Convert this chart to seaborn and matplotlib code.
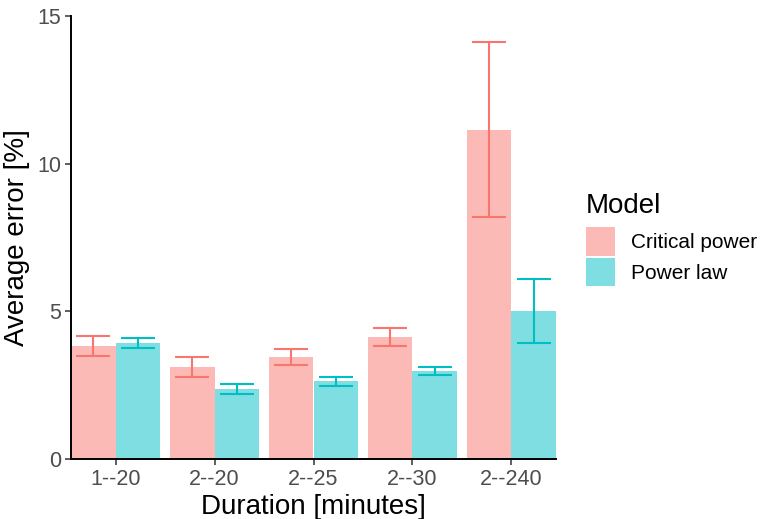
import matplotlib
matplotlib.use("Agg")
import matplotlib.pyplot as plt
import seaborn as sns
import pandas as pd
import numpy as np
from matplotlib.patches import Patch

durations = ["1--20", "2--20", "2--25", "2--30", "2--240"]
models = ["Critical power", "Power law"]
cp_mean = [3.83, 3.12, 3.45, 4.12, 11.15]
cp_low = [3.48, 2.79, 3.17, 3.83, 8.18]
cp_high = [4.17, 3.47, 3.74, 4.44, 14.13]
pl_mean = [3.93, 2.37, 2.63, 2.97, 5.00]
pl_low = [3.75, 2.19, 2.48, 2.83, 3.94]
pl_high = [4.10, 2.55, 2.79, 3.12, 6.10]

colors = {"Critical power": "#F8766D", "Power law": "#00BFC4"}

df = pd.DataFrame({
    "Duration": durations * 2,
    "Model": [models[0]] * 5 + [models[1]] * 5,
    "mean": cp_mean + pl_mean,
    "low": cp_low + pl_low,
    "high": cp_high + pl_high,
})

sns.set_style("white")
plt.rcParams["font.family"] = ["Liberation Sans", "DejaVu Sans"]
plt.rcParams["text.color"] = "black"

fig = plt.figure(figsize=(7.64, 5.19), dpi=100)
ax = fig.add_axes([71 / 764, 60 / 519, (556 - 71) / 764, (459 - 16) / 519])

sns.barplot(data=df, x="Duration", y="mean", hue="Model", order=durations,
            hue_order=models, palette=colors, alpha=0.5, width=0.9,
            errorbar=None, saturation=1, ax=ax, legend=False, linewidth=0)

# error bars placed on each bar's centre
for i, m in enumerate(models):
    sub = df[df["Model"] == m].set_index("Duration").loc[durations]
    xs = np.arange(len(durations)) + (-0.225 if i == 0 else 0.225)
    yerr = [sub["mean"] - sub["low"], sub["high"] - sub["mean"]]
    ax.errorbar(xs, sub["mean"], yerr=yerr, fmt="none", ecolor=colors[m],
                elinewidth=1.5, capsize=12, capthick=1.5)

ax.set_xlim(-0.45, 4.45)
ax.set_ylim(0, 15)
ax.set_yticks([0, 5, 10, 15])
ax.set_xlabel("Duration [minutes]", fontsize=20, color="black", labelpad=3)
ax.set_ylabel("Average error [%]", fontsize=20, color="black", labelpad=5)
ax.tick_params(axis="both", labelsize=15.5, labelcolor="#4D4D4D", color="#333333",
               length=4, width=1.1, pad=3, left=True, bottom=True)
for s in ["top", "right"]:
    ax.spines[s].set_visible(False)
for s in ["left", "bottom"]:
    ax.spines[s].set_color("black")
    ax.spines[s].set_linewidth(1.4)

handles = [Patch(facecolor=colors[m], alpha=0.5, edgecolor="none") for m in models]
leg = fig.legend(handles, models, title="Model", loc="upper left",
                 bbox_to_anchor=(586 / 764, 1 - 193 / 519), frameon=False,
                 fontsize=15, title_fontsize=20, handlelength=1.4,
                 handleheight=1.73, handletextpad=0.75, labelspacing=0.1,
                 alignment="left", borderaxespad=0, borderpad=0)
leg._legend_box.sep = 6
leg.get_title().set_color("black")
for t in leg.get_texts():
    t.set_color("black")

fig.savefig("out.png", dpi=100)
